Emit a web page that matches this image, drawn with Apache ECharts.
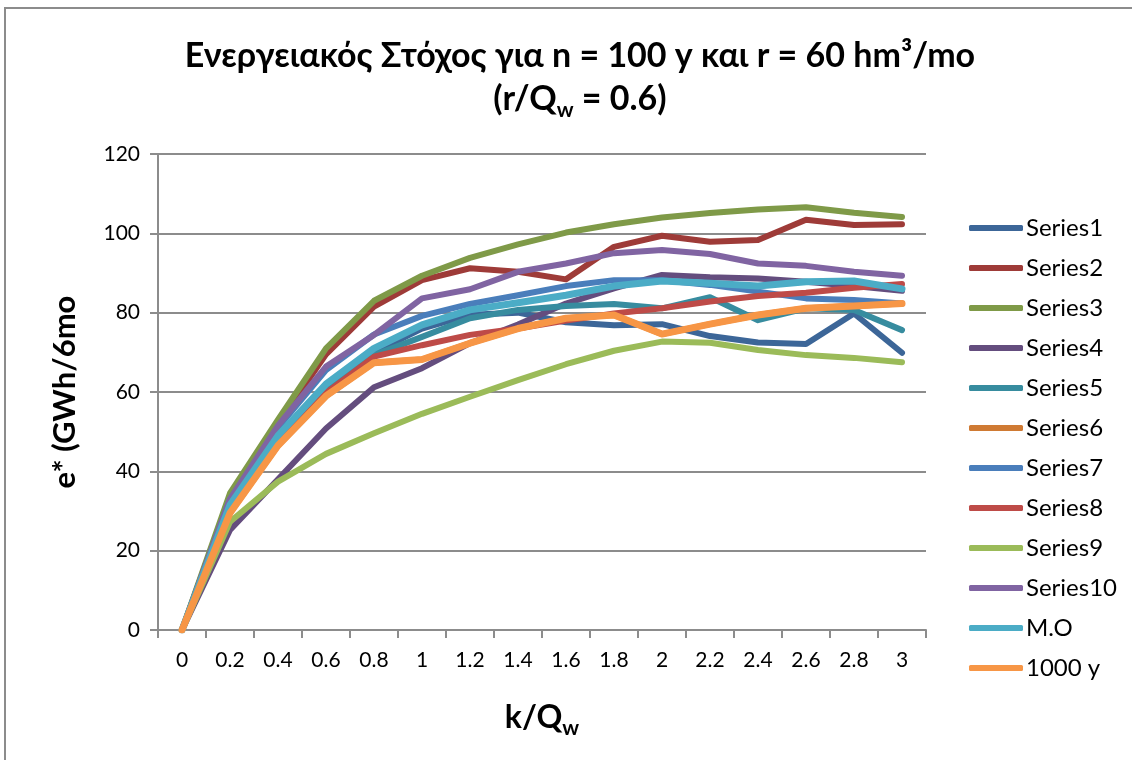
<!DOCTYPE html>
<html>
<head>
<meta charset="utf-8">
<script src="https://cdn.jsdelivr.net/npm/echarts@6/dist/echarts.min.js"></script>
<style>
  html, body { margin: 0; padding: 0; background: #fff; }
  #chart { width: 1132px; height: 760px; }
</style>
</head>
<body>
<div id="chart"></div>
<script>
// k/Qw categories
const categories = ['0', '0.2', '0.4', '0.6', '0.8', '1', '1.2', '1.4', '1.6', '1.8', '2', '2.2', '2.4', '2.6', '2.8', '3'];

// e* values (GWh/6mo) per series
const series1  = [0, 31, 49, 61.5, 70, 76, 79.5, 80, 77.6, 76.8, 77.1, 74.1, 72.5, 72.1, 79.8, 69.9];
const series2  = [0, 33.5, 52, 69.5, 81.5, 88.2, 91.2, 90.3, 88.4, 96.6, 99.4, 97.9, 98.3, 103.4, 102.1, 102.3];
const series3  = [0, 34.5, 53, 71, 83, 89.3, 93.8, 97.2, 100.2, 102.3, 104, 105.1, 106, 106.6, 105.2, 104.1];
const series4  = [0, 25.2, 38, 50.8, 61.2, 66, 72.3, 77, 82.3, 86.1, 89.5, 88.9, 88.6, 87.8, 86.7, 85.5];
const series5  = [0, 30.5, 48, 60.5, 69.3, 73.9, 78.6, 80.7, 81.7, 82.2, 81.1, 83.9, 78.1, 81.1, 80.7, 75.6];
const series6  = [0, 29.5, 46.5, 59, 67.4, 68.2, 72.3, 76, 78.6, 79.4, 74.6, 77.1, 79.4, 81.1, 81.7, 82.3];
const series7  = [0, 33, 51, 65.5, 74.5, 79.2, 82.2, 84.4, 86.7, 88.2, 88.2, 87, 85.3, 83.6, 83.2, 82.3];
const series8  = [0, 30, 47.5, 59.8, 68.9, 71.8, 74.4, 76, 78, 79.8, 81.1, 82.8, 84.2, 85, 86.3, 87.2];
const series9  = [0, 27.3, 37.4, 44.4, 49.6, 54.5, 58.8, 63, 67, 70.4, 72.7, 72.4, 70.6, 69.3, 68.6, 67.5];
const series10 = [0, 33, 51.5, 66.4, 74.4, 83.6, 85.9, 90.3, 92.4, 95, 95.8, 94.8, 92.4, 91.8, 90.3, 89.3];
const meanSeries = [0, 31.5, 49, 62, 71, 76.9, 80.7, 82.5, 84.4, 86.7, 88, 87.4, 86.7, 87.8, 88, 86];
const series1000 = [0, 29.5, 46.5, 59, 67.4, 68.2, 72.3, 76, 78.6, 79.4, 74.6, 77.1, 79.4, 81.1, 81.7, 82.3];

const seriesNames = ['Series1', 'Series2', 'Series3', 'Series4', 'Series5', 'Series6',
  'Series7', 'Series8', 'Series9', 'Series10', 'M.O', '1000 y'];
const seriesData = [series1, series2, series3, series4, series5, series6,
  series7, series8, series9, series10, meanSeries, series1000];
const seriesColors = ['#3C6698', '#9E3B38', '#7F9A48', '#644D7E', '#378C9F', '#CF7A33',
  '#4A7EBB', '#BE4B48', '#9BBB59', '#8064A2', '#4BACC6', '#F79646'];
const seriesWidths = [6, 6, 6, 6, 6, 6, 6, 6, 6, 6, 7, 7];

const yTicks = { min: 0, max: 120, interval: 20 };

const FONT = 'Lato, "Open Sans", sans-serif';
const AXIS_GRAY = '#8C8C8C';

const chart = echarts.init(document.getElementById('chart'), null, { renderer: 'canvas' });

const subStyle = {
  fontFamily: FONT, fontWeight: 'bold', fontSize: 21, color: '#000',
  lineHeight: 28, verticalAlign: 'bottom'
};

chart.setOption({
  animation: false,
  backgroundColor: '#fff',
  graphic: [{
    type: 'rect',
    shape: { x: 5, y: 8, width: 1140, height: 770 },
    style: { fill: 'none', stroke: '#8C8C8C', lineWidth: 2 },
    silent: true
  }],
  title: {
    text: 'Ενεργειακός Στόχος για n = 100 y και r = 60 hm³/mo\n(r/Q{sub|w} = 0.6)',
    left: 575,
    textAlign: 'center',
    top: 30,
    textStyle: {
      fontFamily: FONT, fontWeight: 'bold', fontSize: 34, lineHeight: 43, color: '#000',
      rich: { sub: subStyle }
    }
  },
  legend: {
    orient: 'vertical',
    left: 969,
    top: 216,
    padding: 0,
    icon: 'roundRect',
    itemWidth: 54,
    itemHeight: 6,
    itemGap: 16,
    data: seriesNames,
    textStyle: { fontFamily: FONT, fontSize: 24, color: '#000', lineHeight: 24, padding: [0, 0, 0, -2] }
  },
  grid: { left: 158, right: 206, top: 154, bottom: 130, containLabel: false },
  xAxis: {
    type: 'category',
    data: categories,
    boundaryGap: true,
    name: 'k/Q{sub|w}',
    nameLocation: 'middle',
    nameGap: 66,
    nameTextStyle: {
      fontFamily: FONT, fontWeight: 'bold', fontSize: 32, color: '#000', lineHeight: 43,
      rich: { sub: subStyle }
    },
    axisLine: { lineStyle: { color: AXIS_GRAY, width: 2 } },
    axisTick: { show: true, alignWithLabel: false, length: 8, lineStyle: { color: AXIS_GRAY, width: 2 } },
    axisLabel: { fontFamily: FONT, fontSize: 21, color: '#000', margin: 20 },
    splitLine: { show: false }
  },
  yAxis: {
    type: 'value',
    min: yTicks.min,
    max: yTicks.max,
    interval: yTicks.interval,
    name: 'e* (GWh/6mo',
    nameLocation: 'middle',
    nameGap: 78,
    nameTextStyle: { fontFamily: FONT, fontWeight: 'bold', fontSize: 31, color: '#000' },
    axisLine: { show: true, lineStyle: { color: AXIS_GRAY, width: 2 } },
    axisTick: { show: true, length: 8, lineStyle: { color: AXIS_GRAY, width: 2 } },
    axisLabel: { fontFamily: FONT, fontSize: 21, color: '#000', margin: 18 },
    splitLine: { show: true, lineStyle: { color: AXIS_GRAY, width: 2 } }
  },
  series: seriesNames.map((name, i) => ({
    name: name,
    type: 'line',
    data: seriesData[i],
    symbol: 'none',
    color: seriesColors[i],
    lineStyle: { color: seriesColors[i], width: seriesWidths[i], cap: 'round', join: 'round' },
    z: 2 + i
  }))
});
</script>
</body>
</html>
